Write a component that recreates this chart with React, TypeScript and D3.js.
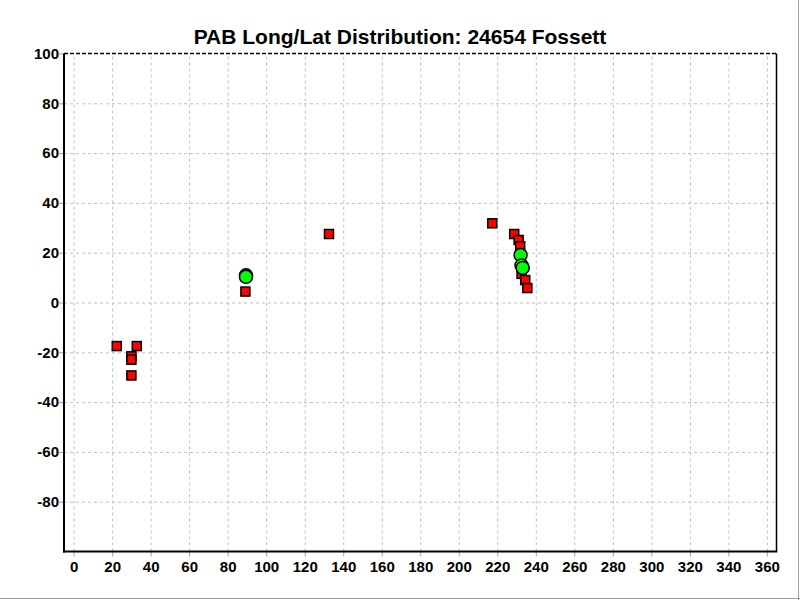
import * as d3 from "d3";
import { useEffect, useRef } from "react";

const title = "PAB Long/Lat Distribution: 24654 Fossett";
const xTicks = [0, 20, 40, 60, 80, 100, 120, 140, 160, 180, 200, 220, 240, 260, 280, 300, 320, 340, 360];
const yTicks = [-80, -60, -40, -20, 0, 20, 40, 60, 80, 100];

// red squares (long, lat)
const squareLong = [22.4, 32.8, 30.0, 30.0, 30.0, 89.2, 132.6, 217.4, 228.8, 231.1, 231.9, 232.6, 234.5, 235.6];
const squareLat = [-17.5, -17.5, -21.6, -23.0, -29.3, 4.4, 27.5, 31.8, 27.5, 25.1, 22.6, 11.5, 9.0, 5.8];

// green circles (long, lat)
const circleLong = [89.5, 89.5, 232.1, 232.6, 233.2];
const circleLat = [10.9, 10.3, 19.1, 14.9, 13.9];

export default function App({
  width = 800,
  height = 600,
  marginLeft = 64,
  marginTop = 53.5,
  marginRight = 23.5,
  marginBottom = 48.5,
}) {
  const ref = useRef(null);

  useEffect(() => {
    const svg = d3.select(ref.current);
    svg.selectAll("*").remove();

    const x = d3.scaleLinear().domain([-5, 365]).range([marginLeft, width - marginRight]);
    const y = d3.scaleLinear().domain([-100, 100]).range([height - marginBottom, marginTop]);
    const font = "'Liberation Sans', Arial, sans-serif";
    const fmt = d => String(d); // plain hyphen minus like the original

    svg.append("rect").attr("width", width).attr("height", height).attr("fill", "#fff");

    // grid (vertical)
    svg.append("g")
      .attr("transform", `translate(0,${y(-100)})`)
      .call(d3.axisBottom(x).tickValues(xTicks).tickSize(-(y(-100) - y(100))).tickFormat(() => ""))
      .call(g => g.select(".domain").remove())
      .call(g => g.selectAll("line").attr("stroke", "#c0c0c0").attr("stroke-dasharray", "3,3"));

    // grid (horizontal)
    svg.append("g")
      .attr("transform", `translate(${x(-5)},0)`)
      .call(d3.axisLeft(y).tickValues(yTicks.filter(d => d < 100)).tickSize(-(x(365) - x(-5))).tickFormat(() => ""))
      .call(g => g.select(".domain").remove())
      .call(g => g.selectAll("line").attr("stroke", "#c0c0c0").attr("stroke-dasharray", "3,3"));

    // x axis
    svg.append("g")
      .attr("transform", `translate(0,${y(-100)})`)
      .call(d3.axisBottom(x).tickValues(xTicks).tickFormat(fmt).tickSize(5).tickPadding(5))
      .call(g => g.select(".domain").remove())
      .call(g => g.selectAll("line").attr("stroke", "#a0a0a0"))
      .call(g => g.selectAll("text").attr("fill", "#000").attr("font-size", 15)
        .attr("font-weight", "bold").attr("font-family", font));

    // y axis
    svg.append("g")
      .attr("transform", `translate(${x(-5)},0)`)
      .call(d3.axisLeft(y).tickValues(yTicks).tickFormat(fmt).tickSize(5).tickPadding(0))
      .call(g => g.select(".domain").remove())
      .call(g => g.selectAll("line").attr("stroke", "#a0a0a0"))
      .call(g => g.selectAll("text").attr("fill", "#000").attr("font-size", 15)
        .attr("font-weight", "bold").attr("font-family", font));

    // frame
    svg.append("line").attr("x1", x(-5)).attr("x2", x(365)).attr("y1", y(100)).attr("y2", y(100))
      .attr("stroke", "#000").attr("stroke-width", 1.5).attr("stroke-dasharray", "4,2");
    svg.append("line").attr("x1", x(365)).attr("x2", x(365)).attr("y1", y(100)).attr("y2", y(-100))
      .attr("stroke", "#000").attr("stroke-width", 1.5);
    svg.append("line").attr("x1", x(-5)).attr("x2", x(-5)).attr("y1", y(100)).attr("y2", y(-100) + 1)
      .attr("stroke", "#000").attr("stroke-width", 2);
    svg.append("line").attr("x1", x(-5) - 1).attr("x2", x(365) + 0.75).attr("y1", y(-100)).attr("y2", y(-100))
      .attr("stroke", "#000").attr("stroke-width", 2);

    // red squares
    const s = 9;
    svg.append("g").selectAll("rect")
      .data(d3.zip(squareLong, squareLat))
      .join("rect")
      .attr("x", d => x(d[0]) - s / 2)
      .attr("y", d => y(d[1]) - s / 2)
      .attr("width", s)
      .attr("height", s)
      .attr("fill", "#ff0000")
      .attr("stroke", "#000")
      .attr("stroke-width", 1.5);

    // green circles
    svg.append("g").selectAll("circle")
      .data(d3.zip(circleLong, circleLat))
      .join("circle")
      .attr("cx", d => x(d[0]))
      .attr("cy", d => y(d[1]))
      .attr("r", 6.5)
      .attr("fill", "#00ff00")
      .attr("stroke", "#000")
      .attr("stroke-width", 1.5);

    // title
    svg.append("text")
      .attr("x", width / 2)
      .attr("y", 44)
      .attr("text-anchor", "middle")
      .attr("font-family", font)
      .attr("font-weight", "bold")
      .attr("font-size", 21)
      .text(title);

    // outer panel edge
    svg.append("line").attr("x1", width - 1.5).attr("x2", width - 1.5).attr("y1", 0).attr("y2", height)
      .attr("stroke", "#a0a0a0");
    svg.append("line").attr("x1", 0).attr("x2", width).attr("y1", height - 1.5).attr("y2", height - 1.5)
      .attr("stroke", "#a0a0a0");
  }, []);

  return (
    <svg ref={ref} width={width} height={height}
      style={{ position: "absolute", left: 0, top: 0, display: "block" }}></svg>
  );
}
